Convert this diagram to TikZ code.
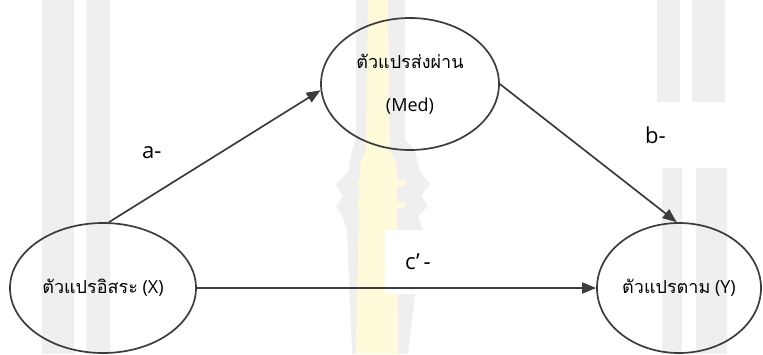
\documentclass[tikz,border=0pt]{standalone}
\usepackage{fontspec}
\setmainfont{Open Sans}
\newfontfamily\thaifont[Script=Thai]{Loma}
\usetikzlibrary{shapes.geometric,arrows.meta}

\definecolor{wmgrey}{HTML}{EFEFEF}
\definecolor{wmyellow}{HTML}{FFFBDA}
\definecolor{linegrey}{HTML}{3C3C3C}

\tikzset{
  var/.style={ellipse,draw=linegrey,line width=1.7pt,inner ysep=0pt,inner xsep=-8pt,
    font=\fontsize{18}{21}\selectfont},
  coef/.style={fill=white,anchor=west,text width=70pt,minimum height=64pt,
    inner xsep=20pt,font=\fontsize{22}{26}\selectfont},
  effect/.style={draw=linegrey,line width=1.7pt,-{Triangle[length=14pt,width=11pt]}}
}

\begin{document}
\begin{tikzpicture}[x=1pt,y=-1pt]
  \useasboundingbox (0,0) rectangle (763,354);
  % page watermark behind the model
  \fill[wmgrey] (42,0) rectangle (74,354) (86,0) rectangle (110,354);
  \fill[wmgrey] (657,0) rectangle (680,102) (692,0) rectangle (725,102);
  \fill[wmgrey] (662,168) rectangle (682,354) (696,168) rectangle (727,354);
  \fill[wmgrey] (356,0) -- (405,0) -- (405,140) -- (415,150) -- (420,172)
    -- (430,184) -- (421,196) -- (428,206) -- (418,216) -- (423,230)
    -- (408,354) -- (352,354) -- (347,230) -- (342,216) -- (336,206)
    -- (343,196) -- (336,184) -- (348,172) -- (352,150) -- (356,140) -- cycle;
  \fill[wmyellow] (368,0) -- (388,0) -- (390,150) -- (397,165) -- (398,354)
    -- (356,354) -- (360,165) -- (366,150) -- cycle;
  \fill[wmyellow] (358,180) rectangle (405,186) (358,202) rectangle (405,208);

  % path coefficients
  \node[coef] (a) at (122,153) {a-};
  \node[coef] (b) at (625,135) {b-};
  \node[coef] (c) at (385,262) {c’\,-};

  % variables
  \node[var,minimum width=186pt,minimum height=130pt] (X) at (103,288)
    {{\thaifont ตัวแปรอิสระ} (X)};
  \node[var,minimum width=178pt,minimum height=132pt,align=center] (Med) at (410,84)
    {{\thaifont ตัวแปรส่งผ่าน}\\[22pt](Med)};
  \node[var,minimum width=164pt,minimum height=130pt] (Y) at (679,288)
    {{\thaifont ตัวแปรตาม} (Y)};

  \begin{scope}[effect]
    \draw (X.85) -- (Med.184);
    \draw (Med.east) -- (Y.92);
    \draw (X.east) -- (Y.west);
  \end{scope}
\end{tikzpicture}
\end{document}
